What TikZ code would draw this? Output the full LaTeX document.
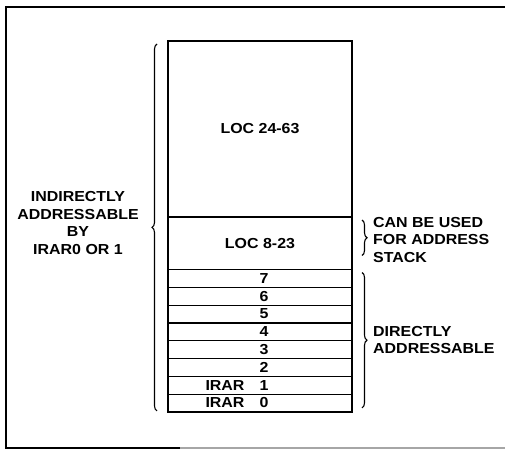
\documentclass[tikz,border=0pt]{standalone}
\usepackage{fontspec}
\setmainfont{Liberation Sans}[FakeStretch=1.1]
\usetikzlibrary{decorations.pathreplacing}
\begin{document}
\begin{tikzpicture}[x=1pt,y=-1pt,
  cell/.style={draw, line width=1.2pt, minimum width=184pt, inner sep=0pt, outer sep=0pt, anchor=north},
  lbl/.style={font=\fontsize{14.5}{17.5}\selectfont\bfseries, inner sep=0pt},
  brc/.style={decorate, decoration={brace, amplitude=5pt}, line width=1.1pt}]
\useasboundingbox (0,0) rectangle (505,450);
% frame
\draw[line width=2.5pt] (505,7) -- (6,7) -- (6,448) -- (180,448);
\draw[line width=1.5pt, black!35] (180,448) -- (505,448);
% memory cells
\node[cell, minimum height=176pt] (loc24) at (260,41) {};
\node[cell, minimum height=52.5pt] (loc8) at (loc24.south) {};
\node[cell, minimum height=17.8pt] (r7) at (loc8.south) {};
\node[cell, minimum height=17.8pt] (r6) at (r7.south) {};
\node[cell, minimum height=17.8pt] (r5) at (r6.south) {};
\node[cell, minimum height=17.8pt] (r4) at (r5.south) {};
\node[cell, minimum height=17.8pt] (r3) at (r4.south) {};
\node[cell, minimum height=17.8pt] (r2) at (r3.south) {};
\node[cell, minimum height=17.8pt] (r1) at (r2.south) {};
\node[cell, minimum height=17.8pt] (r0) at (r1.south) {};
% cell texts
\node[lbl] (t24) at (loc24.center) {LOC 24-63};
\node[lbl] (t8) at (loc8.center) {LOC 8-23};
\foreach \r/\t in {r7/7,r6/6,r5/5,r4/4,r3/3,r2/2,r1/1,r0/0}
  \node[lbl] (n\r) at ([xshift=4pt]\r.center) {\t};
\node[lbl] (i1) at ([xshift=-35pt]r1.center) {IRAR};
\node[lbl] (i0) at ([xshift=-35pt]r0.center) {IRAR};
% braces
\draw[brc] ([xshift=-11pt,yshift=1pt]r0.south west) -- ([xshift=-11pt,yshift=-3pt]loc24.north west) coordinate[midway] (bl);
\draw[brc] ([xshift=10pt,yshift=-3pt]loc8.north east) -- ([xshift=10pt,yshift=14pt]loc8.south east);
\draw[brc] ([xshift=10pt,yshift=-3pt]r7.north east) -- ([xshift=10pt,yshift=4pt]r0.south east);
% annotations
\node[lbl, align=center] (ind) at (78,223) {INDIRECTLY\\ADDRESSABLE\\BY\\IRAR0 OR 1};
\node[lbl, align=left, anchor=west] (can) at (373,240) {CAN BE USED\\FOR ADDRESS\\STACK};
\node[lbl, align=left, anchor=west] (dir) at (373,340) {DIRECTLY\\ADDRESSABLE};
\end{tikzpicture}
\end{document}
